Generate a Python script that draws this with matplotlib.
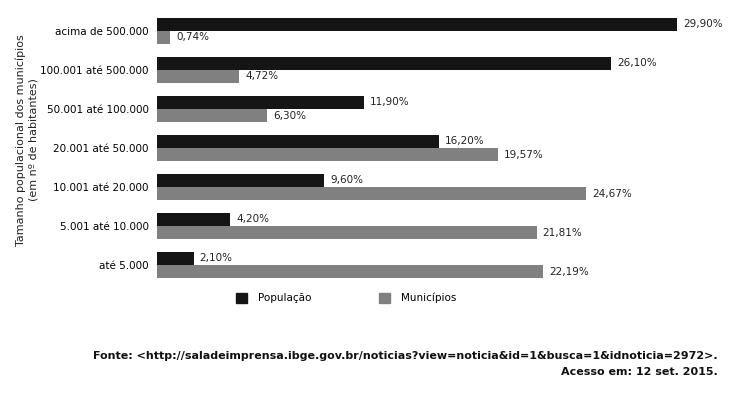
import matplotlib
matplotlib.use("Agg")
from matplotlib import pyplot as plt
from matplotlib.patches import Patch

faixas = ["acima de 500.000", "100.001 até 500.000", "50.001 até 100.000",
          "20.001 até 50.000", "10.001 até 20.000", "5.001 até 10.000", "até 5.000"]
populacao = [29.90, 26.10, 11.90, 16.20, 9.60, 4.20, 2.10]
municipios = [0.74, 4.72, 6.30, 19.57, 24.67, 21.81, 22.19]

preto = "#151515"
cinza = "#808080"

fig = plt.figure(figsize=(7.33, 3.94), dpi=100)
ax = fig.add_axes([157 / 733, 1 - 288.4 / 394, 557 / 733, 281 / 394])

h = 0.34
pos = list(range(len(faixas)))
ax.barh([p - h / 2 for p in pos], populacao, height=h, color=preto)
ax.barh([p + h / 2 for p in pos], municipios, height=h, color=cinza)

for p, v in zip(pos, populacao):
    ax.text(v + 0.35, p - h / 2, ("%.2f%%" % v).replace(".", ","),
            va="center", ha="left", fontsize=7.5, color="#222222")
for p, v in zip(pos, municipios):
    ax.text(v + 0.35, p + h / 2, ("%.2f%%" % v).replace(".", ","),
            va="center", ha="left", fontsize=7.5, color="#222222")

ax.set_xlim(0, 32)
ax.set_ylim(6.6, -0.6)
ax.set_yticks(pos)
ax.set_yticklabels(faixas, fontsize=7.5)
ax.tick_params(axis="y", length=0, pad=6)
ax.set_xticks([])
for s in ax.spines.values():
    s.set_visible(False)

fig.text(27 / 733, 1 - 140 / 394,
         "Tamanho populacional dos municípios\n(em nº de habitantes)",
         rotation=90, ha="center", va="center", fontsize=8, color="#222222")

handles = [Patch(color=preto, label="População"), Patch(color=cinza, label="Municípios")]
fig.legend(handles=handles, loc="center", bbox_to_anchor=(346 / 733, 1 - 298 / 394),
           ncol=2, frameon=False, fontsize=7.5, handlelength=1.1, handleheight=1.1,
           columnspacing=6.5, handletextpad=1.0)

fig.text(718 / 733, 1 - 356 / 394,
         "Fonte: <http://saladeimprensa.ibge.gov.br/noticias?view=noticia&id=1&busca=1&idnoticia=2972>.",
         ha="right", va="center", fontsize=8, fontweight="bold", color="#111111")
fig.text(718 / 733, 1 - 372 / 394, "Acesso em: 12 set. 2015.",
         ha="right", va="center", fontsize=8, fontweight="bold", color="#111111")

fig.savefig("out.png", dpi=100)
